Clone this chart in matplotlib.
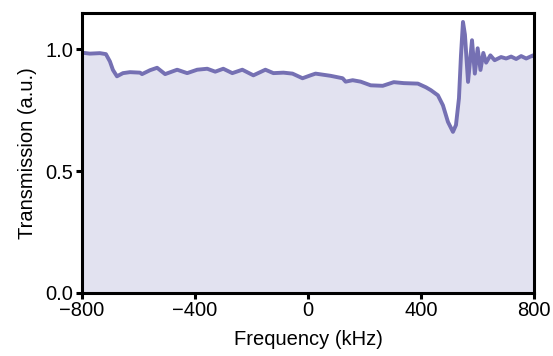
import matplotlib
matplotlib.use("Agg")
import matplotlib.pyplot as plt

plt.rcParams['font.family'] = ['Liberation Sans', 'DejaVu Sans']

# Frequency (kHz) and transmission (a.u.)
freq_khz = [-800, -771.6, -736.1, -714.9, -700.7, -690.0, -675.8, -654.5, -629.7,
            -594.2, -587.1, -558.8, -533.9, -505.5, -462.9, -427.5, -392.0, -356.5,
            -328.2, -299.8, -267.8, -232.4, -193.3, -150.8, -122.4, -86.9, -54.9,
            -19.5, 8.9, 26.6, 79.8, 122.4, 133.0, 157.9, 186.3, 221.7, 264.3, 303.3,
            338.8, 388.5, 416.9, 434.6, 459.4, 477.2, 494.9, 512.6, 523.3, 533.9,
            541.0, 548.1, 555.0, 566.0, 580.0, 590.0, 600.0, 610.0, 620.0, 630.0,
            645.0, 660.0, 682.9, 700.7, 718.4, 736.1, 753.9, 771.6, 796.5, 800]
transmission = [0.986, 0.982, 0.984, 0.980, 0.950, 0.915, 0.889, 0.902, 0.906,
                0.904, 0.898, 0.914, 0.924, 0.898, 0.916, 0.902, 0.916, 0.920,
                0.908, 0.920, 0.902, 0.916, 0.893, 0.916, 0.902, 0.904, 0.900,
                0.881, 0.893, 0.900, 0.891, 0.881, 0.867, 0.873, 0.867, 0.852, 0.850, 0.865,
                0.861, 0.859, 0.844, 0.832, 0.811, 0.770, 0.702, 0.661, 0.689, 0.799,
                0.975, 1.112, 1.060, 0.866, 1.037, 0.900, 1.004, 0.915, 0.985, 0.945,
                0.975, 0.955, 0.968, 0.962, 0.970, 0.960, 0.972, 0.962, 0.975, 0.970]

line_color = '#7570b3'
fill_color = '#e2e2f0'

fig = plt.figure(figsize=(5.53, 3.56), dpi=100)
ax = fig.add_axes([0.148, 0.177, 0.818, 0.786])

ax.fill_between(freq_khz, 0, transmission, color=fill_color, lw=0, zorder=1)
ax.plot(freq_khz, transmission, color=line_color, lw=2.8, zorder=2,
        solid_joinstyle='round')

ax.set_xlim(-800, 800)
ax.set_ylim(0, 1.148)
ax.set_xticks([-800, -400, 0, 400, 800])
ax.set_yticks([0.0, 0.5, 1.0])
ax.set_yticklabels(['0.0', '0.5', '1.0'])

for s in ax.spines.values():
    s.set_linewidth(2.2)
    s.set_color('black')
ax.tick_params(axis='both', direction='out', length=4.5, width=2.2,
               labelsize=14.5, pad=1.5, color='black')

ax.set_xlabel('Frequency (kHz)', fontsize=14.5, labelpad=7)
ax.set_ylabel('Transmission (a.u.)', fontsize=14.5, labelpad=6)

fig.savefig('out.png', dpi=100)
